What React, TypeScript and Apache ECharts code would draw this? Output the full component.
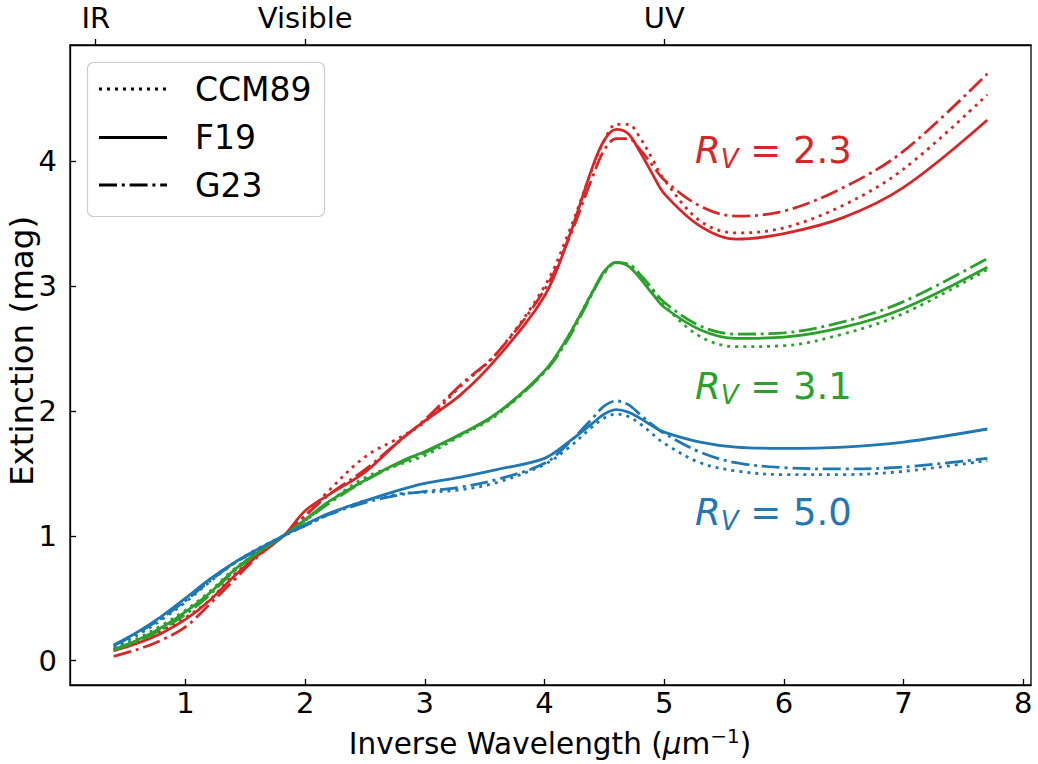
import React, { useEffect, useRef } from "react";
import * as echarts from "echarts";

// Inverse wavelength grid (1/micron)
const X = [0.4, 0.6, 0.8, 1.0, 1.2, 1.4, 1.6, 1.82, 2.0, 2.2, 2.5, 2.8, 3.0, 3.3, 3.6, 4.0, 4.2, 4.4, 4.5, 4.6, 4.7, 4.8, 4.9, 5.0, 5.3, 5.6, 6.0, 6.5, 7.0, 7.7];

// R_V = 2.3
const CCM89_23 = [0.079, 0.152, 0.241, 0.345, 0.483, 0.684, 0.841, 1.0, 1.159, 1.364, 1.632, 1.792, 1.912, 2.199, 2.46, 2.997, 3.422, 3.942, 4.166, 4.295, 4.295, 4.185, 4.02, 3.852, 3.521, 3.425, 3.466, 3.648, 3.936, 4.532];
const F19_23 = [0.08, 0.14, 0.22, 0.33, 0.48, 0.67, 0.84, 1.0, 1.2, 1.33, 1.51, 1.77, 1.92, 2.13, 2.42, 2.92, 3.38, 3.95, 4.17, 4.255, 4.22, 4.07, 3.9, 3.74, 3.48, 3.375, 3.42, 3.55, 3.79, 4.33];
const G23_23 = [0.035, 0.09, 0.165, 0.27, 0.45, 0.64, 0.83, 1.0, 1.16, 1.33, 1.53, 1.77, 1.93, 2.21, 2.46, 2.97, 3.37, 3.87, 4.09, 4.18, 4.18, 4.09, 3.97, 3.85, 3.64, 3.56, 3.6, 3.79, 4.08, 4.7];

// R_V = 3.1
const CCM89_31 = [0.092, 0.178, 0.282, 0.404, 0.552, 0.728, 0.866, 1.0, 1.122, 1.272, 1.465, 1.575, 1.643, 1.802, 1.966, 2.315, 2.601, 2.953, 3.104, 3.186, 3.177, 3.091, 2.967, 2.843, 2.596, 2.514, 2.522, 2.617, 2.78, 3.132];
const F19_31 = [0.09, 0.165, 0.265, 0.39, 0.54, 0.72, 0.865, 1.0, 1.13, 1.275, 1.445, 1.595, 1.675, 1.815, 1.98, 2.32, 2.6, 2.95, 3.12, 3.19, 3.16, 3.06, 2.94, 2.83, 2.65, 2.58, 2.59, 2.67, 2.82, 3.15];
const G23_31 = [0.085, 0.155, 0.25, 0.37, 0.525, 0.71, 0.86, 1.0, 1.12, 1.26, 1.44, 1.585, 1.665, 1.81, 1.975, 2.31, 2.58, 2.94, 3.11, 3.19, 3.17, 3.09, 2.98, 2.87, 2.68, 2.615, 2.625, 2.715, 2.875, 3.22];

// R_V = 5.0
const CCM89_50 = [0.107, 0.206, 0.327, 0.469, 0.628, 0.777, 0.894, 1.0, 1.082, 1.171, 1.281, 1.337, 1.348, 1.369, 1.426, 1.571, 1.704, 1.873, 1.943, 1.974, 1.955, 1.895, 1.817, 1.74, 1.585, 1.519, 1.49, 1.49, 1.516, 1.602];
const F19_50 = [0.125, 0.23, 0.355, 0.5, 0.65, 0.78, 0.89, 1.0, 1.09, 1.18, 1.28, 1.37, 1.42, 1.47, 1.53, 1.62, 1.75, 1.9, 1.975, 2.01, 1.99, 1.94, 1.88, 1.83, 1.75, 1.71, 1.7, 1.71, 1.75, 1.855];
const G23_50 = [0.12, 0.22, 0.34, 0.48, 0.635, 0.775, 0.885, 1.0, 1.08, 1.17, 1.265, 1.33, 1.355, 1.39, 1.45, 1.58, 1.74, 1.94, 2.04, 2.08, 2.05, 1.97, 1.89, 1.82, 1.67, 1.585, 1.545, 1.535, 1.55, 1.62];

const X_TICKS = [1, 2, 3, 4, 5, 6, 7, 8];
const Y_TICKS = [0, 1, 2, 3, 4];
const TOP_TICKS = [0.25, 2.0, 5.0];
const TOP_LABELS = ["IR", "Visible", "UV"];
const MODELS = ["CCM89", "F19", "G23"];
const RV_LABELS = ["2.3", "3.1", "5.0"];

const RED = "#d62728";
const GREEN = "#2ca02c";
const BLUE = "#1f77b4";
const FONT = "DejaVu Sans";
const LW = 2.8;
const DOT = [3, 5];
const DASHDOT = [18, 4.8, 3, 4.8];

export default function App() {
  const ref = useRef<HTMLDivElement>(null);
  useEffect(() => {
    const chart = echarts.init(ref.current!, null, { renderer: "svg" });
    const mk = (name: string, ys: number[], color: string, dash: any) => ({
      type: "line",
      name,
      data: X.map((x, i) => [x, ys[i]]),
      smooth: 0.35,
      symbol: "none",
      showSymbol: false,
      silent: true,
      lineStyle: { color, width: LW, type: dash, cap: "butt" },
      emphasis: { disabled: true },
    });
    const axisLineStyle = { color: "#000", width: 1.3 };
    const rvLabel = (val: string, color: string, x: number, y: number) => ({
      type: "text",
      x,
      y,
      z: 50,
      style: {
        text: `{r|R}{s|V}{n| = ${val}}`,
        fill: color,
        textAlign: "left",
        textVerticalAlign: "middle",
        rich: {
          r: { fontFamily: FONT, fontSize: 37, fontStyle: "italic", fill: color, lineHeight: 43 },
          s: { fontFamily: FONT, fontSize: 26, fontStyle: "italic", fill: color, lineHeight: 26, verticalAlign: "bottom" },
          n: { fontFamily: FONT, fontSize: 37, fill: color, lineHeight: 43 },
        },
      },
    });
    const legendRowY = [89, 137.5, 185];
    const legendDash: any[] = [DOT, null, DASHDOT];
    const legendEls: any[] = [
      {
        type: "rect",
        z: 60,
        shape: { x: 87.5, y: 62.5, width: 237, height: 154, r: 6 },
        style: { fill: "rgba(255,255,255,0.8)", stroke: "#cccccc", lineWidth: 1.2 },
      },
    ];
    MODELS.forEach((m, i) => {
      legendEls.push({
        type: "line",
        z: 61,
        shape: { x1: 99, y1: legendRowY[i], x2: 167, y2: legendRowY[i] },
        style: { stroke: "#000", lineWidth: LW, lineDash: legendDash[i], lineCap: "butt" },
      });
      legendEls.push({
        type: "text",
        z: 61,
        x: 195,
        y: legendRowY[i],
        style: { text: m, fontFamily: FONT, fontSize: 33, fill: "#000", textAlign: "left", textVerticalAlign: "middle" },
      });
    });

    const option: any = {
      animation: false,
      backgroundColor: "#fff",
      grid: { left: 70, right: 7, top: 45, bottom: 79, show: true, borderColor: "#000", borderWidth: 1.3, backgroundColor: "transparent" },
      xAxis: [
        {
          type: "value",
          min: 0.035,
          max: 8.065,
          position: "bottom",
          axisLine: { show: true, onZero: false, lineStyle: axisLineStyle },
          axisTick: { show: true, inside: true, length: 6, customValues: X_TICKS, lineStyle: axisLineStyle },
          axisLabel: { customValues: X_TICKS, fontSize: 29, fontFamily: FONT, color: "#000", margin: 3 },
          splitLine: { show: false },
        },
        {
          type: "value",
          min: 0.035,
          max: 8.065,
          position: "top",
          axisLine: { show: true, onZero: false, lineStyle: axisLineStyle },
          axisTick: { show: true, inside: false, length: 6, customValues: TOP_TICKS, lineStyle: axisLineStyle },
          axisLabel: {
            customValues: TOP_TICKS,
            fontSize: 29,
            fontFamily: FONT,
            color: "#000",
            margin: 13,
            formatter: (v: number) => {
              const i = TOP_TICKS.findIndex((t) => Math.abs(t - v) < 1e-6);
              return i >= 0 ? TOP_LABELS[i] : "";
            },
          },
          splitLine: { show: false },
        },
      ],
      yAxis: {
        type: "value",
        min: -0.195,
        max: 4.93,
        axisLine: { show: true, onZero: false, lineStyle: axisLineStyle },
        axisTick: { show: true, inside: true, length: 6, customValues: Y_TICKS, lineStyle: axisLineStyle },
        axisLabel: { customValues: Y_TICKS, fontSize: 29, fontFamily: FONT, color: "#000", margin: 13 },
        splitLine: { show: false },
      },
      series: [
        mk("CCM89 2.3", CCM89_23, RED, DOT),
        mk("F19 2.3", F19_23, RED, "solid"),
        mk("G23 2.3", G23_23, RED, DASHDOT),
        mk("CCM89 3.1", CCM89_31, GREEN, DOT),
        mk("F19 3.1", F19_31, GREEN, "solid"),
        mk("G23 3.1", G23_31, GREEN, DASHDOT),
        mk("CCM89 5.0", CCM89_50, BLUE, DOT),
        mk("F19 5.0", F19_50, BLUE, "solid"),
        mk("G23 5.0", G23_50, BLUE, DASHDOT),
      ],
      graphic: [
        rvLabel(RV_LABELS[0], RED, 695, 150),
        rvLabel(RV_LABELS[1], GREEN, 695, 386),
        rvLabel(RV_LABELS[2], BLUE, 695, 512),
        {
          type: "text",
          x: 550,
          y: 744,
          style: {
            text: "{a|Inverse Wavelength (}{mu|μ}{a|m}{sup|−1}{a|)}",
            textAlign: "center",
            textVerticalAlign: "middle",
            rich: {
              a: { fontFamily: FONT, fontSize: 29.5, fill: "#000", lineHeight: 36 },
              mu: { fontFamily: FONT, fontSize: 29.5, fontStyle: "italic", fill: "#000", lineHeight: 36 },
              sup: { fontFamily: FONT, fontSize: 20, fill: "#000", lineHeight: 22, verticalAlign: "top" },
            },
          },
        },
        {
          type: "text",
          x: 22,
          y: 351,
          rotation: Math.PI / 2,
          style: {
            text: "Extinction (mag)",
            fontFamily: FONT,
            fontSize: 32.5,
            fill: "#000",
            textAlign: "center",
            textVerticalAlign: "middle",
          },
        },
        ...legendEls,
      ],
    };
    chart.setOption(option);
    return () => chart.dispose();
  }, []);
  return <div ref={ref} style={{ position: "absolute", left: 0, top: 0, width: 1038, height: 764 }} />;
}
